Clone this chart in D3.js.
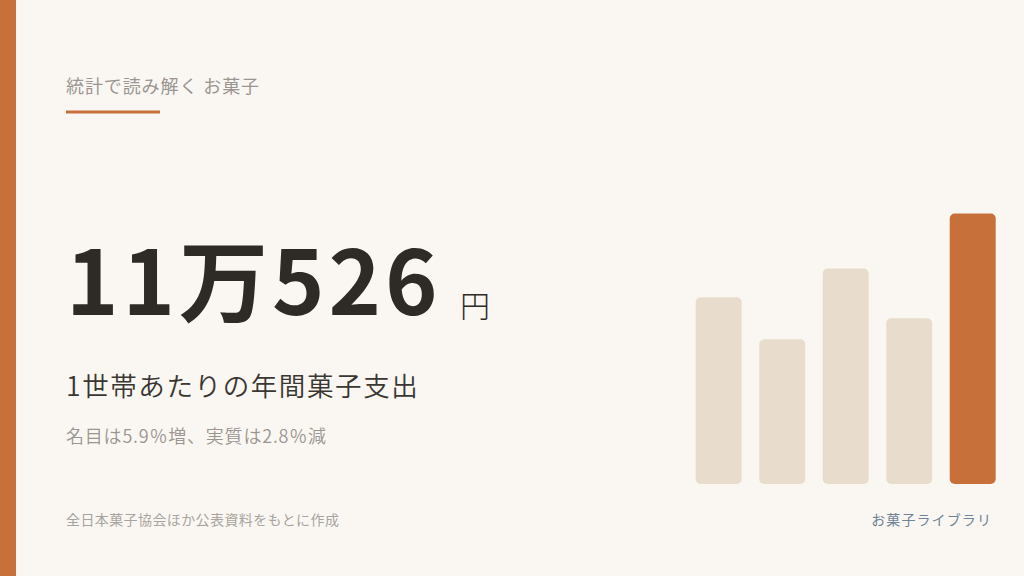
<!DOCTYPE html>
<html><head><meta charset="utf-8">
<script src="https://cdn.jsdelivr.net/npm/d3@7"></script>
<style>
html,body{margin:0;padding:0;background:#faf7f2;}
svg{display:block;font-family:"Noto Sans CJK JP","Noto Sans",sans-serif;}
</style></head>
<body>
<svg id="c" width="1024" height="576"></svg>
<script>
const categories = ["1","2","3","4","5"];
const values = [69, 53.5, 79.7, 61.3, 100];
const highlight = [false, false, false, false, true];
const kicker = "統計で読み解く お菓子";
const bigNumber = "11万526";
const unit = "円";
const subtitle = "1世帯あたりの年間菓子支出";
const note = "名目は5.9％増、実質は2.8％減";
const source = "全日本菓子協会ほか公表資料をもとに作成";
const brand = "お菓子ライブラリ";

const svg = d3.select("#c");
svg.append("rect").attr("width",1024).attr("height",576).attr("fill","#faf7f2");
svg.append("rect").attr("x",0).attr("y",0).attr("width",16).attr("height",576).attr("fill","#c8703a");

svg.append("text").attr("x",66).attr("y",93).attr("font-size",18).attr("fill","#9a9590").attr("letter-spacing",0.9).text(kicker);
svg.append("rect").attr("x",66).attr("y",110.5).attr("width",94).attr("height",3).attr("fill","#c8703a");

svg.append("text").attr("x",66).attr("y",315).attr("font-size",89).attr("font-weight",600).attr("fill","#2e2a25").attr("letter-spacing",4).text(bigNumber);
svg.append("text").attr("x",460).attr("y",317).attr("font-size",30).attr("font-weight",300).attr("fill","#2e2a25").text(unit);

svg.append("text").attr("x",66).attr("y",396).attr("font-size",26.5).attr("font-weight",350).attr("fill","#3a3631").attr("letter-spacing",1.6).text(subtitle);
svg.append("text").attr("x",66).attr("y",443).attr("font-size",18).attr("font-weight",350).attr("fill","#9a9590").attr("letter-spacing",0.8).text(note);

svg.append("text").attr("x",66).attr("y",525).attr("font-size",14).attr("fill","#a8a39d").attr("letter-spacing",0.4).text(source);
svg.append("text").attr("x",992).attr("y",525).attr("text-anchor","end").attr("font-size",14).attr("fill","#6d8496").attr("letter-spacing",1.1).text(brand);

const x = d3.scaleBand().domain(categories).range([695.7, 995.7]).paddingInner(0.276).paddingOuter(0);
const y = d3.scaleLinear().domain([0,100]).range([484, 213.5]);
svg.append("g").selectAll("rect").data(values).join("rect")
  .attr("x",(d,i)=>x(categories[i]))
  .attr("y",d=>y(d))
  .attr("width",x.bandwidth())
  .attr("height",d=>y(0)-y(d))
  .attr("rx",5).attr("ry",5)
  .attr("fill",(d,i)=>highlight[i]?"#c8703a":"#e8ddcc");
</script>
</body></html>
